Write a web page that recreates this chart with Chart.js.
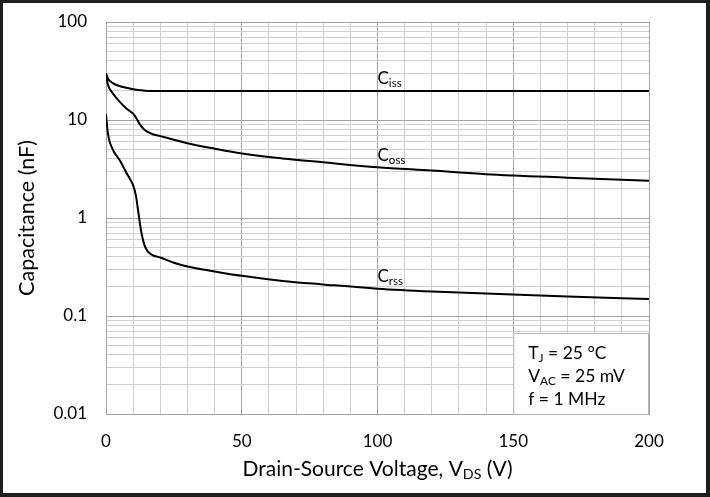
<!DOCTYPE html>
<html>
<head>
<meta charset="utf-8">
<script src="https://cdn.jsdelivr.net/npm/chart.js@4.4.1/dist/chart.umd.min.js"></script>
<style>
  html, body { margin: 0; padding: 0; background: #fff; }
  #wrap { width: 710px; height: 497px; }
</style>
</head>
<body>
<div id="wrap"><canvas id="chart" width="710" height="497"></canvas></div>
<script>
// drain-source voltage (V)
const vds  = [0, 0.7, 2.5, 5, 7.5, 10, 11, 12, 13, 14.5, 17, 20, 25, 30, 40, 50, 65, 80, 100, 120, 140, 170, 200]
// capacitance (nF)
const ciss = [30, 26.5, 23.8, 22.2, 21.3, 20.6, 20.4, 20.2, 20.1, 19.9, 19.8, 19.8, 19.8, 19.8, 19.8, 19.8, 19.8, 19.8, 19.8, 19.8, 19.8, 19.8, 19.8]
const coss = [29, 23, 18.7, 15.4, 13.1, 11.6, 10.6, 9.5, 8.6, 7.8, 7.2, 6.85, 6.3, 5.8, 5.1, 4.55, 4.05, 3.7, 3.3, 3.05, 2.8, 2.58, 2.4]
const crss = [11.5, 7.3, 5.0, 3.9, 2.9, 2.15, 1.7, 1.1, 0.72, 0.5, 0.42, 0.395, 0.35, 0.32, 0.285, 0.257, 0.228, 0.21, 0.19, 0.178, 0.17, 0.158, 0.149]

const xTickLabels = [0, 50, 100, 150, 200]
const yTickLabels = [0.01, 0.1, 1, 10, 100]
const curveNames = [['iss', ciss], ['oss', coss], ['rss', crss]]
const conditions = [
  [['T', ''], ['J', 'sub'], [' = 25 °C', '']],
  [['V', ''], ['AC', 'sub'], [' = 25 mV', '']],
  [['f = 1 MHz', '']]
]

const FONT = 'Lato, "Open Sans", sans-serif'

function toPoints(ys) {
  return vds.map((x, i) => ({ x: x, y: ys[i] }))
}

// text made of normal and subscript parts
function richWidth(ctx, parts, size) {
  let w = 0
  parts.forEach(p => {
    ctx.font = (p[1] === 'sub' ? size * 0.68 : size) + 'px ' + FONT
    w += ctx.measureText(p[0]).width
  })
  return w
}
function drawRich(ctx, parts, x, y, size) {
  ctx.textBaseline = 'middle'
  ctx.textAlign = 'left'
  parts.forEach(p => {
    const sub = p[1] === 'sub'
    ctx.font = (sub ? size * 0.68 : size) + 'px ' + FONT
    ctx.fillText(p[0], x, sub ? y + size * 0.28 : y)
    x += ctx.measureText(p[0]).width
  })
}

const extras = {
  id: 'extras',
  afterDraw(chart) {
    const ctx = chart.ctx
    const xs = chart.scales.x, ys = chart.scales.y
    const area = chart.chartArea
    ctx.save()
    ctx.fillStyle = '#000'

    // curve labels
    const at = vds.indexOf(100)
    curveNames.forEach(c => {
      const px = xs.getPixelForValue(100)
      const py = ys.getPixelForValue(c[1][at]) - 12
      drawRich(ctx, [['C', ''], [c[0], 'sub']], px, py, 17)
    })

    // conditions box
    const bx = xs.getPixelForValue(150)
    const by = ys.getPixelForValue(0.067)
    ctx.fillStyle = '#fff'
    ctx.fillRect(bx, by, area.right - bx, area.bottom - by)
    ctx.strokeStyle = '#b3b3b3'
    ctx.lineWidth = 1
    ctx.strokeRect(bx + 0.5, by + 0.5, area.right - bx - 1, area.bottom - by)
    ctx.fillStyle = '#000'
    conditions.forEach((line, i) => {
      drawRich(ctx, line, bx + 15, by + 20 + i * 23, 17.5)
    })

    // axis titles
    const yTitle = [['Capacitance (nF)', '']]
    ctx.save()
    ctx.translate(27, (area.top + area.bottom) / 2)
    ctx.rotate(-Math.PI / 2)
    drawRich(ctx, yTitle, -richWidth(ctx, yTitle, 21.5) / 2, 0, 21.5)
    ctx.restore()

    const xTitle = [['Drain-Source Voltage, V', ''], ['DS', 'sub'], [' (V)', '']]
    drawRich(ctx, xTitle, (area.left + area.right) / 2 - richWidth(ctx, xTitle, 21) / 2, 469, 21)

    // outer frame
    ctx.strokeStyle = '#1e1e1e'
    ctx.lineWidth = 4
    ctx.strokeRect(1, 1, 707, 494)
    ctx.restore()
  }
}

const lineStyle = {
  borderColor: '#000',
  borderWidth: 2,
  pointRadius: 0,
  fill: false,
  cubicInterpolationMode: 'monotone'
}

new Chart(document.getElementById('chart'), {
  type: 'line',
  data: {
    datasets: [
      Object.assign({ label: 'Ciss', data: toPoints(ciss) }, lineStyle),
      Object.assign({ label: 'Coss', data: toPoints(coss) }, lineStyle),
      Object.assign({ label: 'Crss', data: toPoints(crss) }, lineStyle)
    ]
  },
  options: {
    responsive: false,
    animation: false,
    layout: { padding: { top: 22, right: 61, bottom: 0, left: 0 } },
    plugins: { legend: { display: false }, tooltip: { enabled: false } },
    scales: {
      x: {
        type: 'linear',
        min: 0,
        max: 200,
        afterBuildTicks: s => {
          const t = []
          for (let v = 0; v <= 200; v += 10) t.push({ value: v })
          s.ticks = t
        },
        afterFit: s => { s.height = 83 },
        ticks: {
          autoSkip: false,
          maxRotation: 0,
          padding: 17,
          color: '#000',
          font: { family: FONT, size: 17 },
          callback: v => xTickLabels.includes(v) ? String(v) : ''
        },
        grid: {
          drawTicks: false,
          color: c => (c.tick && c.tick.value % 50 === 0) ? '#a3a3a3' : '#cfcfcf'
        },
        border: { color: '#a3a3a3' }
      },
      y: {
        type: 'logarithmic',
        min: 0.01,
        max: 100,
        afterBuildTicks: s => {
          const t = []
          yTickLabels.forEach((d, i) => {
            if (i === yTickLabels.length - 1) { t.push({ value: d }); return }
            for (let m = 1; m <= 9; m++) t.push({ value: m === 1 ? d : parseFloat((m * d).toPrecision(3)) })
          })
          s.ticks = t
        },
        // fixed width, and no extra room above for the top label
        afterFit: s => { s.width = 106; s.paddingTop = 0; s.paddingBottom = 0 },
        ticks: {
          autoSkip: false,
          padding: 19,
          color: '#000',
          font: { family: FONT, size: 17 },
          callback: v => yTickLabels.includes(v) ? String(v) : ''
        },
        grid: {
          drawTicks: false,
          color: c => (c.tick && yTickLabels.includes(c.tick.value)) ? '#a3a3a3' : '#cfcfcf'
        },
        border: { color: '#a3a3a3' }
      }
    }
  },
  plugins: [extras]
})
</script>
</body>
</html>
